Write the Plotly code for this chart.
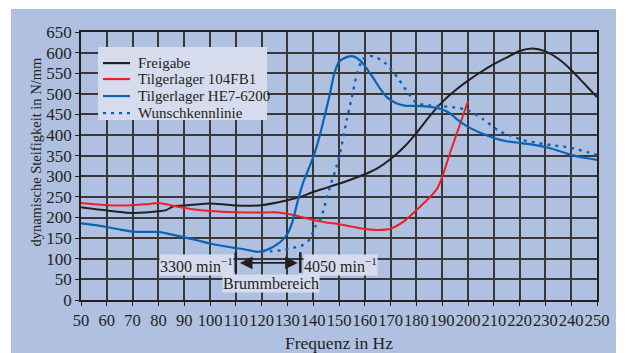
import plotly.graph_objects as go

# ---- data ----
freigabe_x = [50, 60, 70, 80, 83, 86, 90, 100, 105, 110, 120, 130, 135, 140, 145, 150, 155, 160, 165, 170,
              175, 180, 185, 190, 195, 200, 205, 210, 215, 220, 225, 230, 235, 240, 245, 250]
freigabe_y = [225, 217, 211, 215, 218, 228, 229, 234, 232, 229, 230, 242, 250, 262, 272, 282, 293, 305, 320, 342,
              370, 405, 445, 480, 508, 532, 553, 572, 588, 604, 610, 603, 585, 558, 525, 492]

tilger104_x = [50, 55, 60, 70, 75, 80, 83, 86, 90, 95, 100, 110, 120, 125, 130, 135, 140, 145, 150, 155,
               160, 165, 170, 175, 180, 185, 188, 190, 193, 197, 200]
tilger104_y = [235, 232, 230, 230, 232, 235, 232, 228, 223, 219, 216, 213, 212, 213, 209, 202, 194, 188, 184, 178,
               172, 170, 173, 190, 218, 248, 270, 298, 356, 428, 482]

he7_x = [50, 55, 60, 65, 70, 75, 80, 85, 90, 95, 100, 105, 110, 115, 118, 120, 123, 126, 128, 130,
         132, 134, 136, 139, 141, 143, 146.5, 148, 150, 153, 155.5, 158, 160, 163, 166, 168.5, 172, 176, 180, 186,
         190, 193, 196, 200, 205, 210, 215, 220, 225, 230, 235, 240, 245, 250]
he7_y = [186, 182, 177, 171, 166, 165, 165, 159, 152, 145, 137, 131, 126, 121, 117, 118, 124, 135, 145, 160,
         190, 240, 283, 330, 365, 410, 500, 545, 578, 589, 591, 582, 568, 541, 512, 492, 478, 471, 471, 468,
         462, 453, 437, 420, 405, 393, 385, 381, 377, 371, 362, 352, 345, 340]

wunsch_x = [120, 124, 128, 132, 136, 138, 139, 140.7, 142.6, 144, 145, 146.5, 149, 150.4, 153, 155, 157, 159,
            161, 164, 168, 172.5, 176, 180, 185, 190, 195, 200, 206, 212, 216, 221, 226, 232, 240, 250]
wunsch_y = [118, 118, 121, 126, 133, 143, 150, 177, 194, 218, 242, 274, 323, 356, 437, 492, 550, 582,
            592, 590, 574, 541, 509, 478, 472, 470, 467, 460, 438, 410, 400, 388, 382, 376, 369, 352]

series_names = ["Freigabe", "Tilgerlager 104FB1", "Tilgerlager HE7-6200", "Wunschkennlinie"]

x_ticks = list(range(50, 251, 10))
y_ticks = list(range(0, 651, 50))

OUTER_BG = "#b0c0e0"
PLOT_BG = "#d6dcee"
RED = "#ee2026"
BLUE = "#0b63b3"
BLACK = "#231f20"
GRID = "#383838"
FONT = "Liberation Serif"

styles = [
    dict(color=BLACK, width=2),
    dict(color=RED, width=2),
    dict(color=BLUE, width=2.2),
    dict(color=BLUE, width=2.4, dash="3px,5px"),
]
series = [(freigabe_x, freigabe_y), (tilger104_x, tilger104_y), (he7_x, he7_y), (wunsch_x, wunsch_y)]

fig = go.Figure()
for (xs, ys), name, st in zip(series, series_names, styles):
    fig.add_trace(go.Scatter(x=xs, y=ys, mode="lines", name=name,
                             line=dict(shape="spline", smoothing=0.6, **st)))

# outer blue frame
fig.add_shape(type="rect", xref="paper", yref="paper", x0=-0.1357, x1=1.0368, y0=-0.3, y1=1.0858,
              fillcolor=OUTER_BG, line_width=0, layer="below")

# legend box (drawn in paper coordinates)
fig.add_shape(type="rect", xref="paper", yref="paper", x0=0.033, x1=0.3605, y0=0.6716, y1=0.944,
              fillcolor=PLOT_BG, line_width=0, layer="above")
row_y = [0.884, 0.8245, 0.761, 0.6976]
for name, st, ry in zip(series_names, styles, row_y):
    fig.add_shape(type="line", xref="paper", yref="paper", x0=0.0426, x1=0.095, y0=ry, y1=ry,
                  line=dict(color=st["color"], width=2.2, dash=st.get("dash", "solid")), layer="above")
    fig.add_annotation(x=0.1066, y=ry, xref="paper", yref="paper", text=name, showarrow=False,
                       xanchor="left", yanchor="middle", font=dict(family=FONT, size=15, color=BLACK))

# Brummbereich markers
for xv in [110, 135]:
    fig.add_shape(type="line", xref="x", yref="y", x0=xv, x1=xv, y0=66, y1=116,
                  line=dict(color=BLACK, width=2.5))
fig.add_annotation(x=134, y=90, ax=111, ay=90, xref="x", yref="y", axref="x", ayref="y",
                   text="", showarrow=True, arrowhead=2, arrowside="end+start", arrowsize=1.4,
                   arrowwidth=1.8, arrowcolor=BLACK)
fig.add_annotation(x=109.3, y=86, xref="x", yref="y", text="3300 min<sup>−1</sup>", showarrow=False,
                   xanchor="right", yanchor="middle", bgcolor=PLOT_BG, borderpad=0,
                   font=dict(family=FONT, size=16, color=BLACK))
fig.add_annotation(x=136, y=86, xref="x", yref="y", text="4050 min<sup>−1</sup>", showarrow=False,
                   xanchor="left", yanchor="middle", bgcolor=PLOT_BG, borderpad=0,
                   font=dict(family=FONT, size=16, color=BLACK))
fig.add_annotation(x=123.5, y=41, xref="x", yref="y", text="Brummbereich", showarrow=False,
                   xanchor="center", yanchor="middle", bgcolor=PLOT_BG, borderpad=0,
                   font=dict(family=FONT, size=16, color=BLACK))

# y axis title
fig.add_annotation(x=-0.089, y=0.554, xref="paper", yref="paper", text="dynamische Steifigkeit in N/mm",
                   showarrow=False, textangle=-90, xanchor="center", yanchor="middle",
                   font=dict(family=FONT, size=14.5, color=BLACK))

axis_common = dict(showgrid=True, gridcolor=GRID, gridwidth=1.5, showline=True, linecolor=BLACK,
                   linewidth=1.5, mirror=True, ticks="outside", ticklen=4, tickcolor=BLACK,
                   zeroline=False, automargin=False)

fig.update_xaxes(range=[50, 250], tickvals=x_ticks, ticktext=[str(v) for v in x_ticks], tickangle=0,
                 tickfont=dict(family=FONT, size=16.5, color=BLACK),
                 title=dict(text="Frequenz in Hz", font=dict(family=FONT, size=17.5, color=BLACK), standoff=8),
                 **axis_common)
fig.update_yaxes(range=[0, 650], tickvals=y_ticks, ticktext=[str(v) for v in y_ticks],
                 tickfont=dict(family=FONT, size=17, color=BLACK),
                 **axis_common)

# the page body adds an 8px offset, so margins are set relative to that
fig.update_layout(
    width=630, height=353,
    margin=dict(l=73, r=41, t=24, b=61),
    paper_bgcolor="white",
    plot_bgcolor=PLOT_BG,
    showlegend=False,
    font=dict(family=FONT, color=BLACK),
)

fig.write_html("out.html")
